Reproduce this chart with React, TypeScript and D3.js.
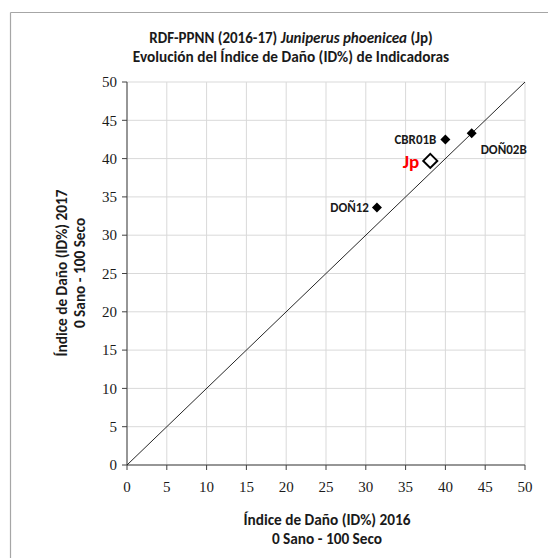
import React from "react";
import * as d3 from "d3";

const siteNames = ["CBR01B", "DOÑ02B", "DOÑ12"];
const id2016 = [40.0, 43.3, 31.4];
const id2017 = [42.5, 43.3, 33.6];
const speciesName = "Jp";
const speciesX = [38.1];
const speciesY = [39.7];
const tickValues = [0, 5, 10, 15, 20, 25, 30, 35, 40, 45, 50];
const titleLines = ["Evolución del Índice de Daño (ID%) de Indicadoras"];
const xLabelLines = ["Índice de Daño (ID%) 2016", "0 Sano - 100 Seco"];
const yLabelLines = ["Índice de Daño (ID%) 2017", "0 Sano - 100 Seco"];

const W = 548, H = 558;
const left = 127, right = 525, top = 82, bottom = 465;
const sans = "Carlito, 'Open Sans', 'Noto Sans', sans-serif";
const serif = "'Liberation Serif', 'DejaVu Serif', serif";

export default function App() {
  const x = d3.scaleLinear().domain([0, 50]).range([left, right]);
  const y = d3.scaleLinear().domain([0, 50]).range([bottom, top]);
  const diamond = (cx: number, cy: number, r: number) =>
    `M${cx},${cy - r}L${cx + r},${cy}L${cx},${cy + r}L${cx - r},${cy}Z`;
  const labelOffsets: Record<string, [number, number, string]> = {
    CBR01B: [-9, 0, "end"],
    "DOÑ02B": [9, 16, "start"],
    "DOÑ12": [-8, 0, "end"],
  };
  return (
    <svg width={W} height={H} style={{ position: "absolute", left: 0, top: 0, background: "#fff" }}>
      <rect x={0} y={0} width={W} height={H} fill="#fff" />
      <line x1={10.5} y1={12.5} x2={W} y2={12.5} stroke="#a6a6a6" strokeWidth={1.2} />
      <line x1={10.5} y1={12.5} x2={10.5} y2={H} stroke="#a6a6a6" strokeWidth={1.2} />
      {/* title */}
      <text x={291} y={42.5} textAnchor="middle" fontFamily={sans} fontSize={15} fontWeight="bold" fill="#1a1a1a">
        <tspan>RDF-PPNN (2016-17) </tspan>
        <tspan fontStyle="italic">Juniperus phoenicea</tspan>
        <tspan> (Jp)</tspan>
      </text>
      {titleLines.map((t, i) => (
        <text key={t} x={291} y={61.5 + i * 19} textAnchor="middle" fontFamily={sans} fontSize={15.3} fontWeight="bold" fill="#1a1a1a">{t}</text>
      ))}
      {/* grid */}
      {tickValues.map((v) => (
        <g key={"g" + v}>
          <line x1={x(v)} x2={x(v)} y1={top} y2={bottom} stroke="#d9d9d9" strokeWidth={1} />
          <line x1={left} x2={right} y1={y(v)} y2={y(v)} stroke="#d9d9d9" strokeWidth={1} />
        </g>
      ))}
      {/* axes */}
      <line x1={left} x2={left} y1={top} y2={bottom} stroke="#404040" strokeWidth={1} />
      <line x1={left} x2={right} y1={bottom} y2={bottom} stroke="#404040" strokeWidth={1} />
      {tickValues.map((v) => (
        <g key={"t" + v}>
          <line x1={left - 5} x2={left} y1={y(v)} y2={y(v)} stroke="#404040" />
          <line x1={x(v)} x2={x(v)} y1={bottom} y2={bottom + 5} stroke="#404040" />
          <text x={left - 10} y={y(v)} dy="0.35em" textAnchor="end" fontFamily={serif} fontSize={15} fill="#1a1a1a">{v}</text>
          <text x={x(v)} y={bottom + 22} dy="0.35em" textAnchor="middle" fontFamily={serif} fontSize={15} fill="#1a1a1a">{v}</text>
        </g>
      ))}
      {/* diagonal */}
      <line x1={x(0)} y1={y(0)} x2={x(50)} y2={y(50)} stroke="#262626" strokeWidth={1} />
      {/* points */}
      {siteNames.map((n, i) => {
        const cx = x(id2016[i]), cy = y(id2017[i]);
        const [dx, dy, anchor] = labelOffsets[n];
        return (
          <g key={n}>
            <path d={diamond(cx, cy, 5)} fill="#000" />
            <text x={cx + dx} y={cy + dy} dy="0.35em" textAnchor={anchor} fontFamily={sans} fontSize={13} fontWeight="bold" fill="#1a1a1a">{n}</text>
          </g>
        );
      })}
      {speciesX.map((sx, i) => (
        <g key="sp">
          <path d={diamond(x(sx), y(speciesY[i]), 7)} fill="#fff" stroke="#000" strokeWidth={2} />
          <text x={x(sx) - 11} y={y(speciesY[i])} dy="0.35em" textAnchor="end" fontFamily={sans} fontSize={19} fontWeight="bold" fill="#ff0000">{speciesName}</text>
        </g>
      ))}
      {/* axis labels */}
      {xLabelLines.map((t, i) => (
        <text key={t} x={327} y={525 + i * 18.5} textAnchor="middle" fontFamily={sans} fontSize={15.3} fontWeight="bold" fill="#1a1a1a">{t}</text>
      ))}
      {yLabelLines.map((t, i) => (
        <text key={t} transform={`translate(${67 + i * 18},273) rotate(-90)`} textAnchor="middle" fontFamily={sans} fontSize={15.3} fontWeight="bold" fill="#1a1a1a">{t}</text>
      ))}
    </svg>
  );
}
